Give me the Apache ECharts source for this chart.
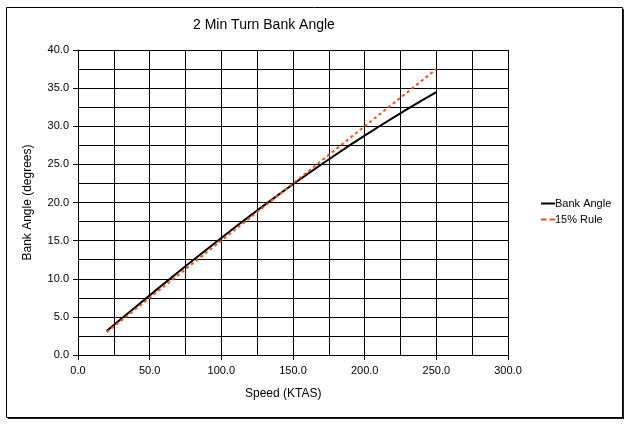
<!DOCTYPE html>
<html><head><meta charset="utf-8">
<script src="https://cdn.jsdelivr.net/npm/echarts@6/dist/echarts.min.js"></script>
<style>html,body{margin:0;padding:0;background:#fff}#c{width:630px;height:429px}</style>
</head><body><div id="c"></div>
<script>
const speeds = [20,30,40,50,60,70,80,90,100,110,120,130,140,150,160,170,180,190,200,210,220,230,240,250];
const bankAngle = [3.14,4.71,6.27,7.82,9.36,10.88,12.39,13.88,15.35,16.81,18.24,19.65,21.03,22.39,23.72,25.02,26.30,27.55,28.78,29.97,31.14,32.28,33.39,34.47];
const ruleAngle = [3.0,4.5,6.0,7.5,9.0,10.5,12.0,13.5,15.0,16.5,18.0,19.5,21.0,22.5,24.0,25.5,27.0,28.5,30.0,31.5,33.0,34.5,36.0,37.5];
const seriesNames = ['Bank Angle','15% Rule'];
const titleText = '2 Min Turn Bank Angle';
const xTitle = 'Speed (KTAS)';
const yTitle = 'Bank Angle (degrees)';

const font = 'Liberation Sans, Arial, sans-serif';
const chart = echarts.init(document.getElementById('c'));
chart.setOption({
  animation:false,
  graphic:[
    {type:'rect', shape:{x:8,y:9,width:616,height:410}, style:{fill:'#202020'}, z:-2},
    {type:'rect', shape:{x:6.5,y:7.5,width:616,height:410}, style:{fill:'#fff',stroke:'#000',lineWidth:1}, z:-1},
    {type:'text', left:193, top:18, style:{text:titleText, font:'14px '+font, fill:'#000'}},
    {type:'text', left:245, top:388, style:{text:xTitle, font:'12px '+font, fill:'#000'}}
  ],
  grid:{left:78, top:50, width:430, height:305, containLabel:false},
  legend:{
    orient:'vertical', left:536, top:193, itemWidth:14, itemHeight:3, itemGap:5,
    textStyle:{fontFamily:font, fontSize:11, color:'#000', padding:[0,0,0,-5]},
    data:[
      {name:seriesNames[0], icon:'path://M0,0H14V2H0Z'},
      {name:seriesNames[1], icon:'path://M0,0H5V2H0ZM8,0H13V2H8Z'}
    ]
  },
  xAxis:{
    type:'value', min:0, max:300, interval:50,
    axisLine:{show:true, lineStyle:{color:'#000', width:1}},
    axisTick:{show:true, length:5, lineStyle:{color:'#000'}},
    axisLabel:{fontFamily:font, fontSize:11, color:'#000', margin:10, formatter:v=>v.toFixed(1)},
    splitLine:{show:true, lineStyle:{color:'#000', width:1}},
    minorTick:{show:false, splitNumber:2},
    minorSplitLine:{show:true, lineStyle:{color:'#000', width:1}}
  },
  yAxis:{
    type:'value', min:0, max:40, interval:5,
    name:yTitle, nameLocation:'middle', nameGap:44,
    nameTextStyle:{fontFamily:font, fontSize:12, color:'#000'},
    axisLine:{show:true, lineStyle:{color:'#000', width:1}},
    axisTick:{show:true, length:5, lineStyle:{color:'#000'}},
    axisLabel:{fontFamily:font, fontSize:11, color:'#000', margin:9, formatter:v=>v.toFixed(1)},
    splitLine:{show:true, lineStyle:{color:'#000', width:1}},
    minorTick:{show:false, splitNumber:2},
    minorSplitLine:{show:true, lineStyle:{color:'#000', width:1}}
  },
  series:[
    {name:seriesNames[0], type:'line', symbol:'none', data:speeds.map((s,i)=>[s,bankAngle[i]]),
     lineStyle:{color:'#000', width:2}, itemStyle:{color:'#000'}, z:3},
    {name:seriesNames[1], type:'line', symbol:'none', data:speeds.map((s,i)=>[s,ruleAngle[i]]),
     lineStyle:{color:'#FF4A1A', width:2, type:[3,3]}, itemStyle:{color:'#FF4A1A'}, z:4}
  ]
});
</script></body></html>
